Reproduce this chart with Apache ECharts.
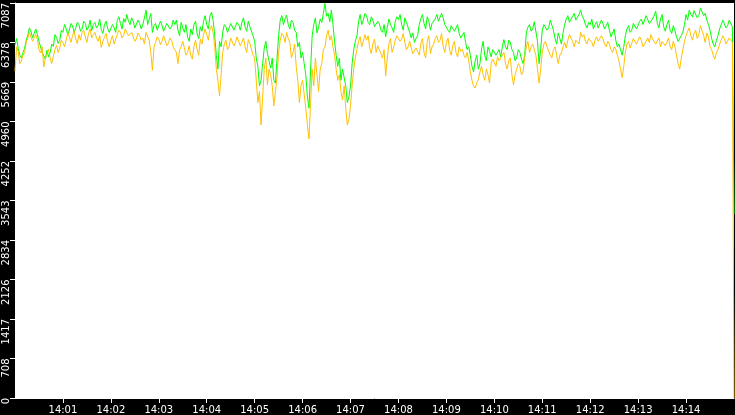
<!DOCTYPE html>
<html>
<head>
    <meta charset="utf-8">
    <title>chart</title>
    <script src="https://cdn.jsdelivr.net/npm/echarts@6/dist/echarts.min.js"></script>
    <style>
        html, body { margin: 0; padding: 0; background: #000; }
        #main { width: 735px; height: 415px; }
    </style>
</head>
<body>
<div id="main"></div>
<script type="text/javascript">

    // one sample every 2 seconds, 14:00:00 .. 14:15:00
    var stepSeconds = 2;
    var startHour = 14;

    var yMax = 7087;
    var yInterval = 708.7;

    var greenValues = [
        6330, 6450, 6275, 6150, 6100, 6200, 6275, 6420, 6505, 6640, 6580, 6460, 6545, 6620, 6525, 6400, 6365, 6200, 6220, 6080,
        6240, 6120, 6200, 6350, 6310, 6520, 6470, 6360, 6420, 6600, 6560, 6700, 6630, 6520, 6600, 6720, 6680, 6560, 6640, 6740,
        6700, 6580, 6620, 6760, 6720, 6600, 6650, 6780, 6590, 6700, 6740, 6640, 6680, 6800, 6610, 6540, 6700, 6760, 6630, 6560,
        6580, 6700, 6650, 6560, 6770, 6840, 6720, 6620, 6810, 6740, 6880, 6760, 6700, 6820, 6760, 6640, 6640, 6780, 6720, 6620,
        6700, 6820, 6960, 6700, 6800, 6900, 6560, 6680, 6720, 6600, 6620, 6760, 6690, 6580, 6600, 6720, 6740, 6620, 6660, 6780,
        6700, 6780, 6600, 6500, 6740, 6640, 6560, 6700, 6480, 6400, 6620, 6520, 6700, 6760, 6530, 6450, 6660, 6580, 6760, 6860,
        6700, 6620, 6860, 6920, 6780, 6500, 6150, 5900, 6400, 6300, 6560, 6700, 6660, 6560, 6590, 6720, 6700, 6600, 6620, 6740,
        6700, 6600, 6740, 6820, 6660, 6580, 6760, 6660, 6640, 6500, 6400, 6100, 5950, 5600, 5700, 6000, 6280, 6400, 6180, 6050,
        5920, 6100, 5700, 5650, 6100, 6500, 6780, 6860, 6700, 6800, 6870, 6700, 6620, 6780, 6740, 6600, 6560, 6300, 6380, 6100,
        6200, 6000, 5800, 5400, 5200, 5900, 6500, 6700, 6820, 6550, 6650, 6800, 6740, 6900, 7080, 6850, 6900, 6750, 6960, 6700,
        6400, 6150, 5950, 6100, 5700, 5900, 5880, 5600, 5300, 5400, 5600, 6000, 6250, 6400, 6500, 6750, 6880, 6700, 6780, 6900,
        6860, 6740, 6700, 6840, 6780, 6660, 6640, 6760, 6720, 6600, 6560, 6700, 6480, 6650, 6800, 6700, 6640, 6560, 6760, 6840,
        6790, 6880, 6700, 6600, 6820, 6740, 6650, 6560, 6460, 6550, 6380, 6450, 6500, 6700, 6800, 6880, 6720, 6620, 6840, 6760,
        6600, 6720, 6700, 6800, 6880, 6760, 6780, 6900, 6820, 6700, 6680, 6600, 6560, 6680, 6700, 6580, 6600, 6700, 6540, 6460,
        6460, 6560, 6380, 6250, 6300, 6150, 5950, 5850, 6050, 6150, 5900, 6000, 6260, 6400, 6150, 6050, 6300, 6220, 6120, 6250,
        6250, 6150, 6180, 6250, 6120, 6300, 6430, 6300, 6250, 6420, 6380, 6250, 6200, 6050, 6100, 6250, 6200, 6080, 6000, 6150,
        6550, 6650, 6700, 6580, 6620, 6750, 6780, 6400, 6000, 6250, 6600, 6700, 6720, 6600, 6640, 6780, 6760, 6600, 6450, 6350,
        6550, 6450, 6350, 6550, 6700, 6800, 6860, 6740, 6720, 6850, 6900, 6780, 6760, 6880, 6960, 6850, 6800, 6700, 6640, 6740,
        6700, 6800, 6620, 6700, 6750, 6640, 6660, 6780, 6720, 6620, 6680, 6740, 6600, 6480, 6500, 6620, 6420, 6300, 6350, 6250,
        6150, 6300, 6500, 6620, 6680, 6560, 6600, 6720, 6740, 6620, 6640, 6760, 6800, 6700, 6720, 6860, 6840, 6720, 6700, 6800,
        6860, 6940, 6720, 6640, 6800, 6880, 6660, 6580, 6700, 6780, 6600, 6540, 6680, 6600, 6480, 6400, 6420, 6500, 6560, 6700,
        6880, 6780, 6960, 6880, 6840, 6950, 6920, 6820, 6860, 7000, 6980, 6860, 6900, 6780, 6700, 6600, 6450, 6350, 6300, 6420,
        6500, 6620, 6700, 6780, 6760, 6640, 6680, 6780, 6720, 6660,
        3300
    ];

    var orangeValues = [
        5865, 6300, 6220, 6000, 6045, 6150, 6190, 6380, 6455, 6560, 6540, 6400, 6470, 6520, 6435, 6250, 6190, 6300, 5940, 6100,
        6150, 6260, 6100, 6000, 6130, 6250, 6330, 6200, 6280, 6420, 6380, 6300, 6420, 6550, 6480, 6380, 6500, 6580, 6440, 6360,
        6520, 6420, 6560, 6600, 6480, 6380, 6540, 6620, 6460, 6520, 6560, 6460, 6400, 6500, 6290, 6400, 6470, 6540, 6390, 6300,
        6420, 6500, 6350, 6440, 6520, 6600, 6560, 6460, 6500, 6620, 6590, 6500, 6480, 6560, 6540, 6400, 6440, 6550, 6500, 6420,
        6460, 6350, 6560, 6480, 6420, 6200, 5880, 6300, 6380, 6480, 6440, 6340, 6400, 6500, 6470, 6320, 6360, 6460, 6420, 6300,
        6330, 6200, 6000, 6250, 6300, 6400, 6280, 6150, 6200, 6320, 6150, 6080, 6310, 6420, 6250, 6150, 6440, 6350, 6520, 6620,
        6520, 6420, 6620, 6680, 6560, 6300, 5900, 5700, 5420, 5800, 6200, 6350, 6420, 6250, 6300, 6460, 6450, 6320, 6380, 6480,
        6450, 6320, 6380, 6460, 6300, 6200, 6430, 6360, 6350, 6150, 6100, 5700, 5300, 5500, 4900, 5400, 5900, 6100, 5620, 5900,
        5800, 5600, 5240, 5500, 5760, 6200, 6420, 6540, 6500, 6380, 6560, 6450, 6380, 6100, 6200, 6350, 5950, 5700, 5300, 5600,
        5700, 5450, 5200, 4900, 4650, 5300, 5900, 5600, 6100, 5800, 5500, 5900, 6000, 6250, 6300, 6500, 6600, 6420, 6500, 6300,
        6150, 5900, 5700, 5800, 5500, 5350, 5600, 5200, 4900, 5000, 5250, 5600, 5900, 6100, 6250, 6400, 6480, 6300, 6400, 6520,
        6420, 6500, 6280, 6180, 6350, 6440, 6200, 6320, 6300, 6180, 6100, 6250, 5780, 6100, 6350, 6450, 6200, 6300, 6420, 6500,
        6520, 6400, 6440, 6540, 6380, 6250, 6300, 6400, 6280, 6180, 6150, 6280, 6250, 6150, 6360, 6450, 6200, 6100, 6400, 6500,
        6180, 6300, 6350, 6450, 6500, 6380, 6420, 6540, 6300, 6200, 6380, 6460, 6240, 6150, 6320, 6400, 6200, 6120, 6300, 6220,
        6260, 6150, 6100, 6200, 6050, 5850, 5700, 5600, 5560, 5650, 5720, 5850, 5950, 5800, 5700, 5900, 5800, 5650, 6000, 6080,
        6050, 5950, 6120, 6050, 6030, 6150, 6200, 6000, 5900, 6050, 6100, 5800, 5620, 5800, 5900, 6000, 5950, 5800, 5850, 6100,
        6300, 6400, 6200, 6300, 6350, 6250, 6150, 5900, 5650, 5900, 6200, 6350, 6400, 6300, 6280, 6150, 6100, 6250, 6300, 6150,
        6000, 6150, 6200, 6300, 6380, 6280, 6420, 6520, 6500, 6400, 6300, 6420, 6450, 6350, 6560, 6480, 6520, 6400, 6350, 6450,
        6450, 6380, 6300, 6420, 6480, 6400, 6380, 6500, 6440, 6350, 6300, 6400, 6350, 6250, 6200, 6300, 6260, 6150, 6050, 5900,
        5750, 5950, 6200, 6350, 6400, 6280, 6300, 6450, 6480, 6350, 6360, 6480, 6420, 6300, 6280, 6400, 6460, 6380, 6520, 6440,
        6450, 6350, 6380, 6460, 6300, 6400, 6420, 6320, 6380, 6460, 6300, 6250, 6400, 6300, 6150, 6000, 5900, 6100, 6250, 6400,
        6500, 6580, 6640, 6500, 6420, 6550, 6600, 6450, 6520, 6680, 6700, 6500, 6380, 6550, 6480, 6300, 6250, 6150, 6080, 6200,
        6250, 6350, 6420, 6500, 6450, 6350, 6380, 6460, 6420, 6380,
        0
    ];

    function toPairs(values) {
        return values.map(function (v, i) { return [i * stepSeconds, v]; });
    }

    function timeLabel(sec) {
        var m = Math.round(sec / 60);
        return startHour + ':' + (m < 10 ? '0' + m : m);
    }

    var myChart = echarts.init(document.getElementById('main'));

    var option = {
        backgroundColor: '#000',
        animation: false,
        grid: {
            left: 15,
            right: 1,
            top: 0,
            bottom: 17,
            show: true,
            backgroundColor: '#fff',
            borderWidth: 0
        },
        xAxis: {
            type: 'value',
            min: 0,
            max: 900,
            interval: 60,
            axisLine: { lineStyle: { color: '#fff', width: 1 } },
            axisTick: { length: 5, lineStyle: { color: '#fff' } },
            splitLine: { show: false },
            axisLabel: {
                color: '#fff',
                fontFamily: 'DejaVu Sans',
                fontSize: 10,
                margin: 7,
                showMinLabel: false,
                showMaxLabel: false,
                formatter: timeLabel
            }
        },
        yAxis: {
            type: 'value',
            min: 0,
            max: yMax,
            interval: yInterval,
            axisLine: { show: true, lineStyle: { color: '#fff' } },
            axisTick: { show: true, length: 5, lineStyle: { color: '#fff' } },
            splitLine: { show: false },
            axisLabel: {
                color: '#fff',
                fontFamily: 'DejaVu Sans',
                fontSize: 10,
                rotate: 90,
                align: 'right',
                verticalAlign: 'middle',
                margin: 9,
                formatter: function (v) { return String(Math.floor(v + 1e-6)); }
            }
        },
        series: [
            {
                type: 'line',
                data: toPairs(greenValues),
                showSymbol: false,
                lineStyle: { color: '#00ff00', width: 1 },
                itemStyle: { color: '#00ff00' }
            },
            {
                type: 'line',
                data: toPairs(orangeValues),
                showSymbol: false,
                lineStyle: { color: '#ffc000', width: 1 },
                itemStyle: { color: '#ffc000' }
            }
        ]
    };

    myChart.setOption(option);

</script>
</body>
</html>
